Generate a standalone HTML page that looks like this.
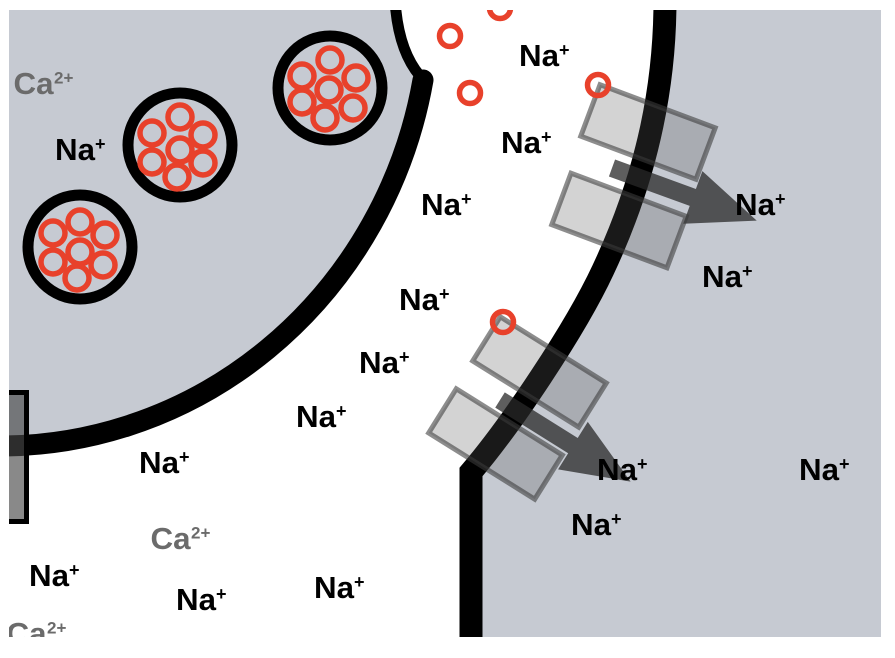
<!DOCTYPE html>
<html>
<head>
<meta charset="utf-8">
<style>
  html, body { margin: 0; padding: 0; background: #fff; }
  svg { display: block; }
  text { font-family: "Liberation Sans", Arial, sans-serif; font-weight: bold; }
  .na { font-size: 30.5px; fill: #000; }
  .sp { font-size: 18px; fill: #000; }
  .ca { font-size: 30.5px; fill: #6b6b6b; }
  .cs { font-size: 17px; fill: #6b6b6b; }
</style>
</head>
<body>
<svg width="895" height="658" viewBox="0 0 895 658" xmlns="http://www.w3.org/2000/svg">
  <defs>
    <clipPath id="c"><rect x="9" y="10" width="872" height="627"/></clipPath>
  </defs>
  <rect width="895" height="658" fill="#fff"/>
  <g clip-path="url(#c)">
    <!-- left cell -->
    <path d="M0,0 L395,0 Q398,50 420,76 L423,80 A430,446 0 0 1 0,446 Z" fill="#c6cad2"/>
    <!-- right cell -->
    <path d="M665,0 C665,80 650,170 603,270 C575,330 511,425 471,472 L471,660 L900,660 L900,0 Z" fill="#c6cad2"/>

    <!-- membranes -->
    <path d="M395,0 Q398,50 420,76" stroke="#000" stroke-width="11" fill="none"/>
    <path d="M423,80 A430,446 0 0 1 -20,445.5" stroke="#000" stroke-width="21" fill="none" stroke-linecap="round"/>
    <path d="M665,0 C665,80 650,170 603,270 C575,330 511,425 471,472 L471,660" stroke="#000" stroke-width="23" fill="none" stroke-linejoin="miter"/>

    <!-- vesicles -->
    <g fill="#c6cad2" stroke="#000" stroke-width="11">
      <circle cx="330" cy="88" r="52"/>
      <circle cx="180" cy="145" r="52"/>
      <circle cx="80" cy="247" r="52"/>
    </g>
    <g fill="none" stroke="#e8412b" stroke-width="5.5">
      <circle cx="330" cy="60" r="12"/>
      <circle cx="302" cy="76" r="12"/>
      <circle cx="356" cy="78" r="12"/>
      <circle cx="302" cy="102" r="12"/>
      <circle cx="353" cy="108" r="12"/>
      <circle cx="329" cy="90" r="12"/>
      <circle cx="325" cy="118" r="12"/>

      <circle cx="180" cy="117" r="12"/>
      <circle cx="152" cy="133" r="12"/>
      <circle cx="203" cy="135" r="12"/>
      <circle cx="152" cy="162" r="12"/>
      <circle cx="203" cy="163" r="12"/>
      <circle cx="180" cy="150" r="12"/>
      <circle cx="177" cy="177" r="12"/>

      <circle cx="80" cy="222" r="12"/>
      <circle cx="53" cy="233" r="12"/>
      <circle cx="105" cy="235" r="12"/>
      <circle cx="53" cy="262" r="12"/>
      <circle cx="103" cy="265" r="12"/>
      <circle cx="80" cy="252" r="12"/>
      <circle cx="77" cy="278" r="12"/>
    </g>

    <!-- left edge channel -->
    <rect x="-10" y="392.5" width="36.5" height="129" fill="rgba(70,70,70,0.64)" stroke="#000" stroke-width="5"/>

    <!-- arrows -->
    <g transform="translate(612,168) rotate(20)">
      <polygon points="0,-9 86,-9 86,-28 154,0 86,28 86,9 0,9" fill="rgba(40,40,40,0.75)"/>
    </g>
    <g transform="translate(500,400) rotate(32)">
      <polygon points="0,-9 86,-9 86,-28 154,0 86,28 86,9 0,9" fill="rgba(40,40,40,0.75)"/>
    </g>

    <!-- transporter rects -->
    <g fill="rgba(92,92,92,0.27)" stroke="rgba(58,58,58,0.58)" stroke-width="5">
      <rect transform="translate(648,132) rotate(20.5)" x="-61.5" y="-27.5" width="123" height="55"/>
      <rect transform="translate(619,220.5) rotate(20.5)" x="-61.5" y="-27.5" width="123" height="55"/>
      <rect transform="translate(539.5,372) rotate(32)" x="-62.5" y="-26" width="125" height="52"/>
      <rect transform="translate(495.5,444) rotate(32)" x="-62.5" y="-26" width="125" height="52"/>
    </g>

    <!-- free red circles -->
    <g fill="none" stroke="#e8412b" stroke-width="5.5">
      <circle cx="500" cy="8" r="10.5"/>
      <circle cx="450" cy="36" r="10.5"/>
      <circle cx="470" cy="93" r="10.5"/>
      <circle cx="598" cy="85" r="10.5"/>
      <circle cx="503" cy="322" r="10.5"/>
    </g>

    <!-- Na+ labels -->
    <g>
      <text class="na" x="55" y="160" textLength="40" lengthAdjust="spacingAndGlyphs">Na</text><text class="sp" x="95" y="150">+</text>
      <text class="na" x="519" y="66" textLength="40" lengthAdjust="spacingAndGlyphs">Na</text><text class="sp" x="559" y="56">+</text>
      <text class="na" x="501" y="153" textLength="40" lengthAdjust="spacingAndGlyphs">Na</text><text class="sp" x="541" y="143">+</text>
      <text class="na" x="421" y="215" textLength="40" lengthAdjust="spacingAndGlyphs">Na</text><text class="sp" x="461" y="205">+</text>
      <text class="na" x="399" y="310" textLength="40" lengthAdjust="spacingAndGlyphs">Na</text><text class="sp" x="439" y="300">+</text>
      <text class="na" x="735" y="215" textLength="40" lengthAdjust="spacingAndGlyphs">Na</text><text class="sp" x="775" y="205">+</text>
      <text class="na" x="702" y="287" textLength="40" lengthAdjust="spacingAndGlyphs">Na</text><text class="sp" x="742" y="277">+</text>
      <text class="na" x="359" y="373" textLength="40" lengthAdjust="spacingAndGlyphs">Na</text><text class="sp" x="399" y="363">+</text>
      <text class="na" x="296" y="427" textLength="40" lengthAdjust="spacingAndGlyphs">Na</text><text class="sp" x="336" y="417">+</text>
      <text class="na" x="139" y="473" textLength="40" lengthAdjust="spacingAndGlyphs">Na</text><text class="sp" x="179" y="463">+</text>
      <text class="na" x="29" y="586" textLength="40" lengthAdjust="spacingAndGlyphs">Na</text><text class="sp" x="69" y="576">+</text>
      <text class="na" x="176" y="610" textLength="40" lengthAdjust="spacingAndGlyphs">Na</text><text class="sp" x="216" y="600">+</text>
      <text class="na" x="314" y="598" textLength="40" lengthAdjust="spacingAndGlyphs">Na</text><text class="sp" x="354" y="588">+</text>
      <text class="na" x="597" y="480" textLength="40" lengthAdjust="spacingAndGlyphs">Na</text><text class="sp" x="637" y="470">+</text>
      <text class="na" x="799" y="480" textLength="40" lengthAdjust="spacingAndGlyphs">Na</text><text class="sp" x="839" y="470">+</text>
      <text class="na" x="571" y="535" textLength="40" lengthAdjust="spacingAndGlyphs">Na</text><text class="sp" x="611" y="525">+</text>
    </g>

    <!-- Ca2+ labels -->
    <g>
      <text class="ca" x="13.5" y="94" textLength="40" lengthAdjust="spacingAndGlyphs">Ca</text><text class="cs" x="54" y="83.5">2+</text>
      <text class="ca" x="150.5" y="549" textLength="40" lengthAdjust="spacingAndGlyphs">Ca</text><text class="cs" x="191" y="538.5">2+</text>
      <text class="ca" x="6.5" y="644" textLength="40" lengthAdjust="spacingAndGlyphs">Ca</text><text class="cs" x="47" y="633.5">2+</text>
    </g>
  </g>
</svg>
</body>
</html>
